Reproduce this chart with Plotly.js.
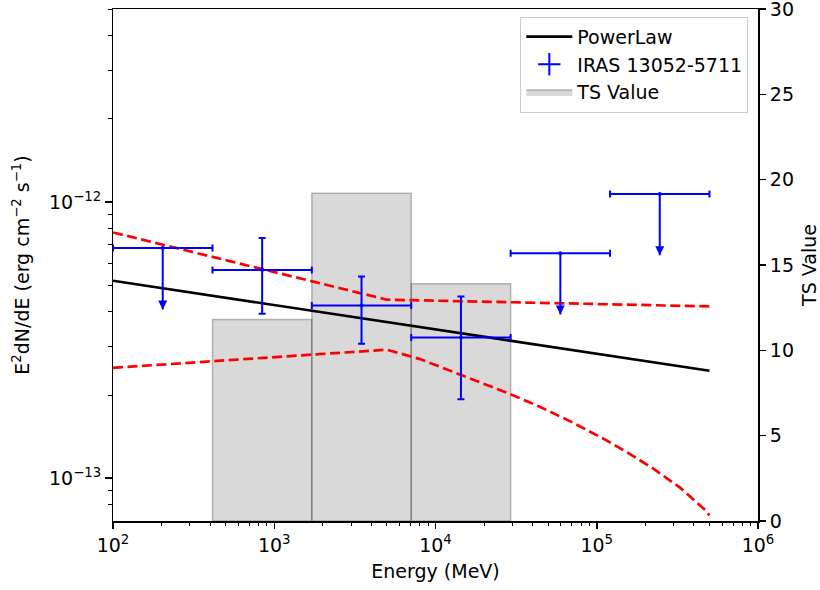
<!DOCTYPE html>
<html><head><meta charset="utf-8">
<script src="https://cdn.plot.ly/plotly-3.0.1.min.js"></script>
<style>html,body{margin:0;padding:0;background:#fff}</style>
</head><body>
<div id="chart" style="width:820px;height:590px"></div>
<script>
// Energy bins (MeV)
const binEdges   = [100, 414, 1710, 7071, 29240, 120900, 500000];
const binCenters = [203.4, 841.3, 3477, 14380, 59460, 245900];
// TS value per bin
const tsValues   = [0, 11.8, 19.2, 13.9, 0, 0];

// Detected flux points (E^2 dN/dE, erg cm^-2 s^-1)
const detIndex = [1, 2, 3];
const detFlux  = [5.68e-13, 4.22e-13, 3.23e-13];
const detHigh  = [7.41e-13, 5.37e-13, 4.55e-13];
const detLow   = [3.94e-13, 3.07e-13, 1.93e-13];

// Upper limits
const ulIndex = [0, 4, 5];
const ulFlux  = [6.81e-13, 6.53e-13, 1.069e-12];
const ulArrowFrac = 0.6;

// PowerLaw model
const plE    = [100, 500000];
const plFlux = [5.19e-13, 2.45e-13];

// Butterfly bounds
const upE    = [100, 5000, 500000];
const upFlux = [7.76e-13, 4.43e-13, 4.19e-13];
const loE    = [100, 5000, 8020, 11190, 14000, 29040, 44650, 71850, 115800, 154300, 225500, 330300, 472300, 500000];
const loFlux = [2.51e-13, 2.92e-13, 2.70e-13, 2.506e-13, 2.382e-13, 2.018e-13, 1.811e-13, 1.585e-13, 1.368e-13, 1.242e-13, 1.081e-13, 9.226e-14, 7.656e-14, 7.33e-14];

const FONT = 'DejaVu Sans, sans-serif';
const FS = 19;
const BLUE = '#0000ff';
const traces = [];

// TS bars as polygons on the TS axis (primary y, drawn below)
let firstBar = true;
for (let i = 0; i < tsValues.length; i++) {
  if (tsValues[i] <= 0) continue;
  const a = binEdges[i], b = binEdges[i + 1], h = tsValues[i];
  traces.push({
    type: 'scatter', mode: 'lines', xaxis: 'x', yaxis: 'y',
    x: [a, a, b, b, a], y: [0, h, h, 0, 0],
    fill: 'toself', fillcolor: 'rgba(128,128,128,0.3)',
    line: {color: 'rgba(0,0,0,0.25)', width: 1.5},
    name: 'TS Value', legendgroup: 'ts', showlegend: firstBar, legendrank: 3,
    hoverinfo: 'skip'
  });
  firstBar = false;
}

// Butterfly
traces.push({type: 'scatter', mode: 'lines', xaxis: 'x', yaxis: 'y2', x: upE, y: upFlux,
  line: {color: '#ff0000', width: 2.7, dash: '10px,4.5px'}, showlegend: false});
traces.push({type: 'scatter', mode: 'lines', xaxis: 'x', yaxis: 'y2', x: loE, y: loFlux,
  line: {color: '#ff0000', width: 2.7, dash: '10px,4.5px'}, showlegend: false});

// PowerLaw
traces.push({type: 'scatter', mode: 'lines', xaxis: 'x', yaxis: 'y2', x: plE, y: plFlux,
  line: {color: '#000000', width: 2.7}, name: 'PowerLaw', legendrank: 1});

// Detections
const dx = detIndex.map(i => binCenters[i]);
traces.push({type: 'scatter', mode: 'markers', xaxis: 'x', yaxis: 'y2',
  x: dx, y: detFlux,
  marker: {color: BLUE, size: 4},
  error_x: {type: 'data', symmetric: false,
    array: detIndex.map(i => binEdges[i + 1] - binCenters[i]),
    arrayminus: detIndex.map(i => binCenters[i] - binEdges[i]),
    color: BLUE, thickness: 2, width: 3.5},
  error_y: {type: 'data', symmetric: false,
    array: detFlux.map((v, k) => detHigh[k] - v),
    arrayminus: detFlux.map((v, k) => v - detLow[k]),
    color: BLUE, thickness: 2, width: 3.5},
  showlegend: false});

// Upper limits
const ux = ulIndex.map(i => binCenters[i]);
traces.push({type: 'scatter', mode: 'markers', xaxis: 'x', yaxis: 'y2',
  x: ux, y: ulFlux,
  marker: {color: BLUE, size: 4},
  error_x: {type: 'data', symmetric: false,
    array: ulIndex.map(i => binEdges[i + 1] - binCenters[i]),
    arrayminus: ulIndex.map(i => binCenters[i] - binEdges[i]),
    color: BLUE, thickness: 2, width: 3.5},
  error_y: {type: 'data', symmetric: false,
    array: ulFlux.map(() => 0),
    arrayminus: ulFlux.map(v => v * (1 - ulArrowFrac)),
    color: BLUE, thickness: 2, width: 0},
  showlegend: false});
traces.push({type: 'scatter', mode: 'markers', xaxis: 'x', yaxis: 'y2',
  x: ux, y: ulFlux.map(v => v * ulArrowFrac),
  marker: {color: BLUE, size: 9, symbol: 'arrow-down', line: {width: 0}},
  showlegend: false});

// Legend entry for the data points
traces.push({type: 'scatter', mode: 'markers', xaxis: 'x', yaxis: 'y2',
  x: [null], y: [null], name: 'IRAS 13052-5711', legendrank: 2,
  marker: {color: BLUE, symbol: 'cross-thin', size: 17, line: {color: BLUE, width: 2}}});

// Minor tick positions
const xMinor = [];
for (let d = 2; d < 6; d++) for (let m = 2; m <= 9; m++) xMinor.push(m * Math.pow(10, d));
const yMinor = [8e-14, 9e-14];
for (let m = 2; m <= 9; m++) yMinor.push(m * 1e-13);
for (let m = 2; m <= 5; m++) yMinor.push(m * 1e-12);

const xTickVals = [1e2, 1e3, 1e4, 1e5, 1e6];
const xTickText = ['10<sup>2</sup>', '10<sup>3</sup>', '10<sup>4</sup>', '10<sup>5</sup>', '10<sup>6</sup>'];
const yTickVals = [1e-13, 1e-12];
const yTickText = ['10<sup>\u221213</sup>', '10<sup>\u221212</sup>'];
const tsTickVals = [0, 5, 10, 15, 20, 25, 30];

const layout = {
  width: 820, height: 590,
  margin: {l: 113, r: 62, t: 9, b: 69, pad: 0},
  paper_bgcolor: '#ffffff', plot_bgcolor: '#ffffff',
  font: {family: FONT, size: FS, color: '#000'},
  showlegend: true,
  legend: {x: 0.985, xanchor: 'right', y: 0.985, yanchor: 'top',
    bgcolor: 'rgba(255,255,255,0.8)', bordercolor: '#cccccc', borderwidth: 1,
    itemwidth: 46,
    font: {family: FONT, size: FS}, traceorder: 'normal'},
  xaxis: {
    type: 'log', range: [2, 6],
    tickmode: 'array', tickvals: xTickVals, ticktext: xTickText,
    ticks: 'outside', ticklen: 6.5, tickwidth: 1.5, tickcolor: '#000',
    tickfont: {family: FONT, size: FS},
    minor: {tickmode: 'array', tickvals: xMinor, ticks: 'outside', ticklen: 3.5, tickwidth: 1, tickcolor: '#000', showgrid: false},
    showline: true, linecolor: '#000', linewidth: 1.5, mirror: true,
    showgrid: false, zeroline: false,
    title: {text: 'Energy (MeV)', font: {family: FONT, size: FS}, standoff: 10}
  },
  yaxis: {
    range: [0, 30], side: 'right',
    tickmode: 'array', tickvals: tsTickVals,
    ticklabeloverflow: 'allow',
    ticks: 'outside', ticklen: 6.5, tickwidth: 1.5, tickcolor: '#000',
    tickfont: {family: FONT, size: FS},
    showline: true, linecolor: '#000', linewidth: 1.5,
    showgrid: false, zeroline: false,
    title: {text: 'TS Value', font: {family: FONT, size: FS}, standoff: 10}
  },
  yaxis2: {
    type: 'log', overlaying: 'y', side: 'left',
    range: [Math.log10(7e-14), Math.log10(5e-12)],
    tickmode: 'array', tickvals: yTickVals, ticktext: yTickText,
    ticks: 'outside', ticklen: 6.5, tickwidth: 1.5, tickcolor: '#000',
    tickfont: {family: FONT, size: FS},
    minor: {tickmode: 'array', tickvals: yMinor, ticks: 'outside', ticklen: 3.5, tickwidth: 1, tickcolor: '#000', showgrid: false},
    showline: true, linecolor: '#000', linewidth: 1.5,
    showgrid: false, zeroline: false,
    title: {text: 'E<sup>2</sup>dN/dE (erg cm<sup>\u22122</sup> s<sup>\u22121</sup>)', font: {family: FONT, size: FS}, standoff: 14}
  }
};

Plotly.newPlot('chart', traces, layout, {displayModeBar: false, staticPlot: true});
</script>
</body></html>
